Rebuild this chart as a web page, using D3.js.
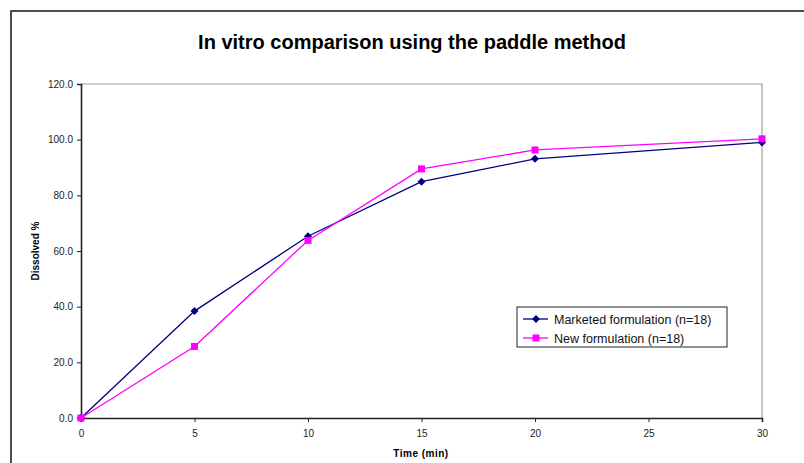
<!DOCTYPE html>
<html lang="en">
    <head>
        <meta charset="utf-8">
        <title>In vitro comparison</title>
        <script src="https://d3js.org/d3.v7.min.js"></script>
        <style>
            body { margin: 0; background: #fff; }
            text { font-family: "Liberation Sans", Arial, sans-serif; }
        </style>
    </head>
    <body>
        <div id="chart_area"></div>
        <script type="text/javascript">
            // data
            var times = [0, 5, 10, 15, 20, 30];
            var marketed = [0, 38.4, 65.3, 84.9, 93.1, 99.0];
            var newForm = [0, 25.7, 63.8, 89.5, 96.3, 100.3];
            var xTicks = [0, 5, 10, 15, 20, 25, 30];
            var yTicks = [0, 20, 40, 60, 80, 100, 120];
            var seriesNames = ["Marketed formulation (n=18)", "New formulation (n=18)"];

            var W = 804, H = 463;
            var svg = d3.select("#chart_area").append("svg").attr("width", W).attr("height", H);

            // outer frame (right / bottom edge run off the picture)
            svg.append("rect").attr("x", 11).attr("y", 11).attr("width", 820).attr("height", 480)
                .attr("fill", "none").attr("stroke", "#222").attr("stroke-width", 1.6);

            var x = d3.scaleLinear().domain([0, 30]).range([81, 762]);
            var y = d3.scaleLinear().domain([0, 120]).range([418, 84]);

            // plot area border (grey top + right)
            svg.append("path").attr("d", "M81,84H762V418").attr("fill", "none").attr("stroke", "#a0a0a0").attr("stroke-width", 1.2);

            var xAxis = svg.append("g").attr("transform", "translate(0,418)")
                .call(d3.axisBottom(x).tickValues(xTicks).tickSize(4).tickPadding(8));
            var yAxis = svg.append("g").attr("transform", "translate(81,0)")
                .call(d3.axisLeft(y).tickValues(yTicks).tickSize(4).tickPadding(4).tickFormat(d3.format(".1f")));
            [xAxis, yAxis].forEach(function(a){
                a.select(".domain").attr("stroke", "#222").attr("stroke-width", 1.6);
                a.selectAll(".tick line").attr("stroke", "#222");
                a.selectAll("text").attr("font-size", 10).attr("fill", "#222")
                    .attr("font-family", "Liberation Sans, Arial, sans-serif");
            });

            svg.append("text").attr("x", 412).attr("y", 49).attr("text-anchor", "middle")
                .attr("font-size", 20).attr("font-weight", "bold").text("In vitro comparison using the paddle method");
            svg.append("text").attr("x", 421).attr("y", 457).attr("text-anchor", "middle")
                .attr("font-size", 10).attr("font-weight", "bold").attr("letter-spacing", 0.5).text("Time (min)");
            svg.append("text").attr("transform", "translate(39,251) rotate(-90)").attr("text-anchor", "middle")
                .attr("font-size", 10).attr("font-weight", "bold").text("Dissolved %");

            var line = d3.line().x(function(d){ return x(d[0]); }).y(function(d){ return y(d[1]); });
            var series = [
                { name: seriesNames[0], values: marketed, color: "#000080", shape: "diamond" },
                { name: seriesNames[1], values: newForm, color: "#ff00ff", shape: "square" }
            ];
            var diamond = "M0,-4L4,0L0,4L-4,0Z";
            var square = "M-3.5,-3.5H3.5V3.5H-3.5Z";

            series.forEach(function(s){
                var pts = times.map(function(t, i){ return [t, s.values[i]]; });
                svg.append("path").datum(pts).attr("d", line).attr("fill", "none")
                    .attr("stroke", s.color).attr("stroke-width", 1.3);
                svg.selectAll(null).data(pts).enter().append("path")
                    .attr("d", s.shape == "diamond" ? diamond : square)
                    .attr("transform", function(d){ return "translate(" + x(d[0]) + "," + y(d[1]) + ")"; })
                    .attr("fill", s.color);
            });

            // legend
            var lg = svg.append("g").attr("transform", "translate(517,307)");
            lg.append("rect").attr("width", 210).attr("height", 40).attr("fill", "#fff").attr("stroke", "#222");
            series.forEach(function(s, i){
                var ly = 12 + i * 19;
                lg.append("line").attr("x1", 6).attr("x2", 31).attr("y1", ly).attr("y2", ly)
                    .attr("stroke", s.color).attr("stroke-width", 1.3);
                lg.append("path").attr("d", s.shape == "diamond" ? diamond : square)
                    .attr("transform", "translate(19," + ly + ")").attr("fill", s.color);
                lg.append("text").attr("x", 37).attr("y", ly + 4.5).attr("font-size", 12.5).attr("fill", "#111").text(s.name);
            });
        </script>
    </body>
</html>
